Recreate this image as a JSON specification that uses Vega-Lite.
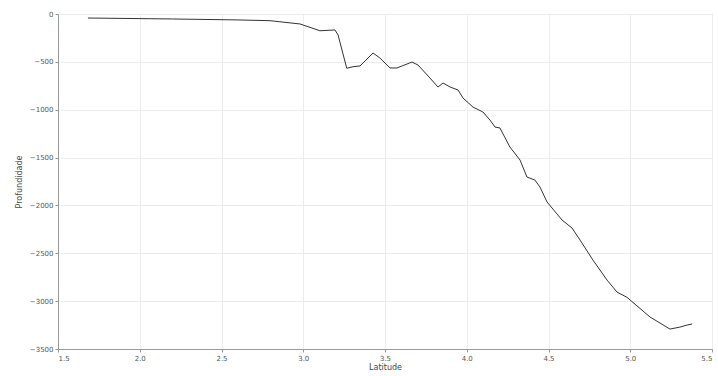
{
  "$schema": "https://vega.github.io/schema/vega-lite/v6.json",
  "autosize": {"type": "none"},
  "padding": {"left": 58, "top": 14, "right": 6, "bottom": 27},
  "width": 654,
  "height": 335,
  "background": "white",
  "config": {
    "view": {"stroke": "#aaaaaa", "strokeWidth": 1},
    "font": "DejaVu Sans",
    "axis": {
      "gridColor": "#ececec",
      "domainColor": "#999999",
      "tickColor": "#999999",
      "tickSize": 3,
      "labelFontSize": 7,
      "labelColor": "#555555",
      "titleFontSize": 8,
      "titleFontWeight": "normal",
      "titleColor": "#444444"
    }
  },
  "data": {
    "values": [
      {"lat": 1.683, "depth": -42},
      {"lat": 2.2, "depth": -52},
      {"lat": 2.6, "depth": -62},
      {"lat": 2.797, "depth": -70},
      {"lat": 2.98, "depth": -104},
      {"lat": 3.102, "depth": -175},
      {"lat": 3.194, "depth": -167},
      {"lat": 3.213, "depth": -219},
      {"lat": 3.266, "depth": -567},
      {"lat": 3.304, "depth": -551},
      {"lat": 3.347, "depth": -543},
      {"lat": 3.427, "depth": -408},
      {"lat": 3.469, "depth": -460},
      {"lat": 3.531, "depth": -564},
      {"lat": 3.573, "depth": -564},
      {"lat": 3.665, "depth": -502},
      {"lat": 3.702, "depth": -533},
      {"lat": 3.775, "depth": -669},
      {"lat": 3.824, "depth": -763},
      {"lat": 3.855, "depth": -721},
      {"lat": 3.898, "depth": -763},
      {"lat": 3.947, "depth": -794},
      {"lat": 3.977, "depth": -878},
      {"lat": 4.038, "depth": -972},
      {"lat": 4.099, "depth": -1024},
      {"lat": 4.142, "depth": -1108},
      {"lat": 4.173, "depth": -1181},
      {"lat": 4.203, "depth": -1191},
      {"lat": 4.264, "depth": -1390},
      {"lat": 4.326, "depth": -1526},
      {"lat": 4.368, "depth": -1703},
      {"lat": 4.417, "depth": -1735},
      {"lat": 4.448, "depth": -1808},
      {"lat": 4.491, "depth": -1964},
      {"lat": 4.583, "depth": -2153},
      {"lat": 4.644, "depth": -2236},
      {"lat": 4.693, "depth": -2362},
      {"lat": 4.772, "depth": -2571},
      {"lat": 4.858, "depth": -2780},
      {"lat": 4.919, "depth": -2905},
      {"lat": 4.98, "depth": -2960},
      {"lat": 5.121, "depth": -3166},
      {"lat": 5.243, "depth": -3292},
      {"lat": 5.304, "depth": -3271},
      {"lat": 5.347, "depth": -3250},
      {"lat": 5.378, "depth": -3239}
    ]
  },
  "mark": {"type": "line", "color": "#333333", "strokeWidth": 1},
  "encoding": {
    "x": {
      "field": "lat",
      "type": "quantitative",
      "title": "Latitude",
      "scale": {"domain": [1.5, 5.5], "nice": false, "zero": false},
      "axis": {"values": [1.5, 2.0, 2.5, 3.0, 3.5, 4.0, 4.5, 5.0, 5.5], "format": ".1f", "titlePadding": 2, "labelPadding": 2}
    },
    "y": {
      "field": "depth",
      "type": "quantitative",
      "title": "Profundidade",
      "scale": {"domain": [-3500, 0], "nice": false},
      "axis": {"values": [0, -500, -1000, -1500, -2000, -2500, -3000, -3500], "format": "d", "titlePadding": 6, "labelPadding": 2}
    }
  }
}
